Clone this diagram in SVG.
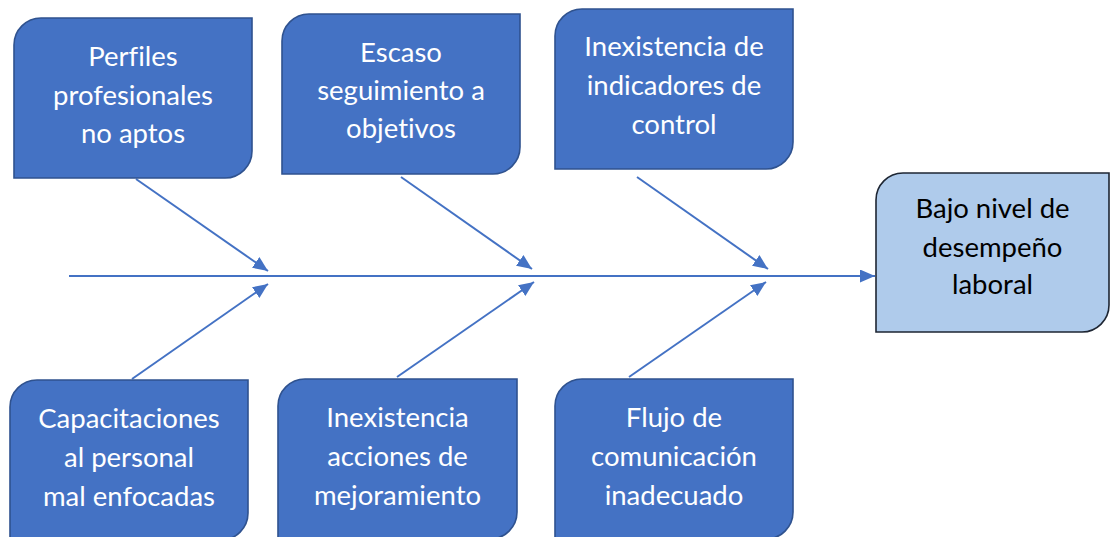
<svg xmlns="http://www.w3.org/2000/svg" width="1110" height="537" viewBox="0 0 1110 537">
<defs>
<style>
.cause{fill:#4472C4;stroke:#2F528F;stroke-width:1.6}
.effect{fill:#AFCBEB;stroke:#1E2633;stroke-width:1.6}
.ct{font-family:Lato,"Noto Sans","Liberation Sans",sans-serif;font-size:27.5px;fill:#FFFFFF;text-anchor:middle;font-variant-ligatures:none}
.et{font-family:Lato,"Noto Sans","Liberation Sans",sans-serif;font-size:27.5px;fill:#000000;text-anchor:middle;font-variant-ligatures:none}
.conn{stroke:#4472C4;stroke-width:2;fill:none}
</style>
<marker id="ah" markerUnits="userSpaceOnUse" markerWidth="16" markerHeight="14" refX="15" refY="6.5" orient="auto">
<path d="M0,0 L15,6.5 L0,13 Z" fill="#4472C4"/>
</marker>
</defs>
<rect width="1110" height="537" fill="#FFFFFF"/>
<g id="connectors">
<line class="conn" x1="69" y1="276" x2="875" y2="276" marker-end="url(#ah)"/>
<line class="conn" x1="136" y1="179" x2="268" y2="271" marker-end="url(#ah)"/>
<line class="conn" x1="132" y1="379" x2="268" y2="284" marker-end="url(#ah)"/>
<line class="conn" x1="401" y1="177" x2="532" y2="269" marker-end="url(#ah)"/>
<line class="conn" x1="397" y1="377" x2="534" y2="282" marker-end="url(#ah)"/>
<line class="conn" x1="637" y1="177" x2="768" y2="269" marker-end="url(#ah)"/>
<line class="conn" x1="629" y1="377" x2="766" y2="282" marker-end="url(#ah)"/>
</g>
<g id="cause1">
<path class="cause" d="M41,18 H252 V151 A27,27 0 0 1 225,178 H14 V45 A27,27 0 0 1 41,18 Z"/>
<text class="ct" x="133" y="66">Perfiles</text>
<text class="ct" x="133" y="104.5">profesionales</text>
<text class="ct" x="133" y="143">no aptos</text>
</g>
<g id="cause2">
<path class="cause" d="M309,14 H520 V147 A27,27 0 0 1 493,174 H282 V41 A27,27 0 0 1 309,14 Z"/>
<text class="ct" x="401" y="62">Escaso</text>
<text class="ct" x="401" y="100">seguimiento a</text>
<text class="ct" x="401" y="138">objetivos</text>
</g>
<g id="cause3">
<path class="cause" d="M582,9 H793 V142 A27,27 0 0 1 766,169 H555 V36 A27,27 0 0 1 582,9 Z"/>
<text class="ct" x="674" y="56">Inexistencia de</text>
<text class="ct" x="674" y="95">indicadores de</text>
<text class="ct" x="674" y="133.5">control</text>
</g>
<g id="cause4">
<path class="cause" d="M37,380 H248 V513 A27,27 0 0 1 221,540 H10 V407 A27,27 0 0 1 37,380 Z"/>
<text class="ct" x="129" y="428">Capacitaciones</text>
<text class="ct" x="129" y="467">al personal</text>
<text class="ct" x="129" y="506">mal enfocadas</text>
</g>
<g id="cause5">
<path class="cause" d="M305,379 H517 V512 A27,27 0 0 1 490,539 H278 V406 A27,27 0 0 1 305,379 Z"/>
<text class="ct" x="397.5" y="427">Inexistencia</text>
<text class="ct" x="397.5" y="466">acciones de</text>
<text class="ct" x="397.5" y="504.5">mejoramiento</text>
</g>
<g id="cause6">
<path class="cause" d="M582,379 H793 V512 A27,27 0 0 1 766,539 H555 V406 A27,27 0 0 1 582,379 Z"/>
<text class="ct" x="674" y="427">Flujo de</text>
<text class="ct" x="674" y="466">comunicación</text>
<text class="ct" x="674" y="504.5">inadecuado</text>
</g>
<g id="effect">
<path class="effect" d="M903,173 H1109 V305 A27,27 0 0 1 1082,332 H876 V200 A27,27 0 0 1 903,173 Z"/>
<text class="et" x="992.5" y="218">Bajo nivel de</text>
<text class="et" x="992.5" y="256.5">desempeño</text>
<text class="et" x="992.5" y="294">laboral</text>
</g>
</svg>
